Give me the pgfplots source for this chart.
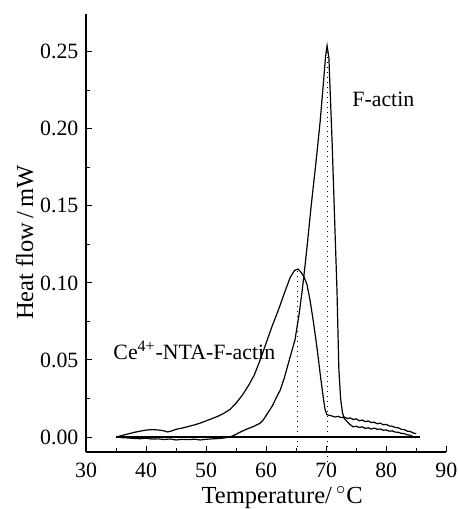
\documentclass[11pt,border=0pt]{standalone}
\usepackage{fontspec}
\setmainfont{Liberation Serif}
\usepackage{pgfplots}
\pgfplotsset{compat=1.18}
\begin{document}
\begin{tikzpicture}
\path[use as bounding box] (-43bp,-28.5bp) rectangle (185.5bp,225.85bp);
\begin{axis}[
  scale only axis, width=180bp, height=218.85bp,
  xmin=30, xmax=90, ymin=-0.0097, ymax=0.2745,
  axis x line=bottom, axis y line=left, axis line style={-, line width=0.6bp},
  xtick={30,40,...,90}, ytick={0,0.05,...,0.25},
  minor x tick num=1, minor y tick num=1,
  major tick length=3bp, minor tick length=2bp,
  tick style={line width=0.5bp, black},
  tick align=inside,
  /pgf/number format/assume math mode=true,
  yticklabel style={/pgf/number format/.cd, fixed, fixed zerofill, precision=2},
  xticklabel style={yshift=-1.5bp},
  ylabel={Heat flow\,/\,mW}, xlabel={Temperature/\,$^{\circ}$C},
  ylabel style={at={(axis description cs:0,0.5)}, rotate=0, anchor=base,
    yshift=26.5bp, xshift=-4.75bp, font=\fontsize{12.3}{14}\selectfont},
  xlabel style={at={(axis description cs:0.5,0)}, anchor=base,
    yshift=-25.7bp, xshift=8bp, font=\fontsize{12.3}{14}\selectfont},
  clip=false,
]
% baseline
\addplot[black, line width=0.6bp] coordinates {(35,0) (85.7,0)};
% dotted guides
\addplot[black, dotted, line width=0.5bp] coordinates {(65.3,-0.0097) (65.3,0.109)};
\addplot[black, dotted, line width=0.5bp] coordinates {(70.15,-0.016) (70.15,0.254)};
% F-actin
\addplot[black, line width=0.6bp] coordinates {
(35,0.000) (36,-0.0004) (37,-0.0006) (38,-0.0009) (39,-0.0011) (40,-0.0008) (41,-0.0013)
(42,-0.0012) (43,-0.0016) (44,-0.0013) (45,-0.0019) (46,-0.0015) (47,-0.0017) (48,-0.0014)
(49,-0.0019) (50,-0.0015) (51,-0.0012) (52,-0.0010) (53,-0.0006) (54,0.000) (55,0.0018)
(56,0.0038) (57,0.0055) (58,0.0070) (59,0.0090) (59.5,0.0110) (60,0.0140) (61,0.0200)
(62,0.0280) (62.3,0.0300) (63,0.0380) (64,0.0520) (64.8,0.0630) (65.5,0.0800) (66,0.0950)
(66.5,0.1120) (66.8,0.1230) (67.5,0.1500) (68.4,0.1820) (69,0.2050) (69.5,0.2280)
(69.9,0.2470) (70.15,0.2540) (70.45,0.2460) (71,0.1900) (71.5,0.1300) (71.8,0.0950)
(72.1,0.0450) (72.4,0.0250) (72.7,0.0160) (73,0.0120) (73.5,0.0100) (74,0.0080)
(74.5,0.0066) (75,0.0070) (75.5,0.0062) (76,0.0066) (76.5,0.0056) (77,0.0060) (77.5,0.0052)
(78,0.0058) (78.5,0.0050) (79,0.0052) (79.5,0.0044) (80,0.0046) (80.5,0.0038) (81,0.0040)
(81.5,0.0032) (82,0.0031) (82.5,0.0024) (83,0.0022) (83.5,0.0014) (84,0.0012) (84.5,0.0002)
(85,-0.0006)
};
% Ce4+-NTA-F-actin
\addplot[black, line width=0.6bp] coordinates {
(35,0.000) (36,0.0010) (37,0.0020) (38,0.0030) (39,0.0038) (40,0.0045) (41,0.0048)
(42,0.0046) (43,0.0040) (43.5,0.0033) (44,0.0036) (45,0.0050) (46,0.0058) (47,0.0068)
(48,0.0078) (49,0.0090) (50,0.0105) (51,0.0120) (52,0.0135) (53,0.0155) (54,0.0180)
(55,0.0220) (56,0.0270) (57,0.0330) (58,0.0400) (59,0.0500) (60,0.0610) (61,0.0720)
(62,0.0820) (63,0.0930) (64,0.1035) (64.7,0.1080) (65.3,0.1090) (65.8,0.1070) (66.3,0.1040)
(66.8,0.0990) (67.3,0.0890) (67.9,0.0740) (68.5,0.0570) (69,0.0410) (69.5,0.0260)
(69.8,0.0180) (70.1,0.0145) (70.6,0.0140) (71,0.0136) (71.5,0.0130) (72,0.0134) (72.5,0.0126)
(73,0.0130) (73.5,0.0120) (74,0.0124) (74.5,0.0114) (75,0.0118) (75.5,0.0106) (76,0.0110)
(76.5,0.0100) (77,0.0104) (77.5,0.0094) (78,0.0096) (78.5,0.0086) (79,0.0090) (79.5,0.0080)
(80,0.0082) (80.5,0.0072) (81,0.0070) (81.5,0.0062) (82,0.0060) (82.5,0.0050) (83,0.0048)
(83.5,0.0038) (84,0.0036) (84.5,0.0026) (85,0.0022)
};
\node[anchor=west, inner sep=0pt] at (axis cs:74.3,0.219) {F-actin};
\node[anchor=west, inner sep=0pt] at (axis cs:34.5,0.056) {Ce\textsuperscript{4+}-NTA-F-actin};
\end{axis}
\end{tikzpicture}
\end{document}
